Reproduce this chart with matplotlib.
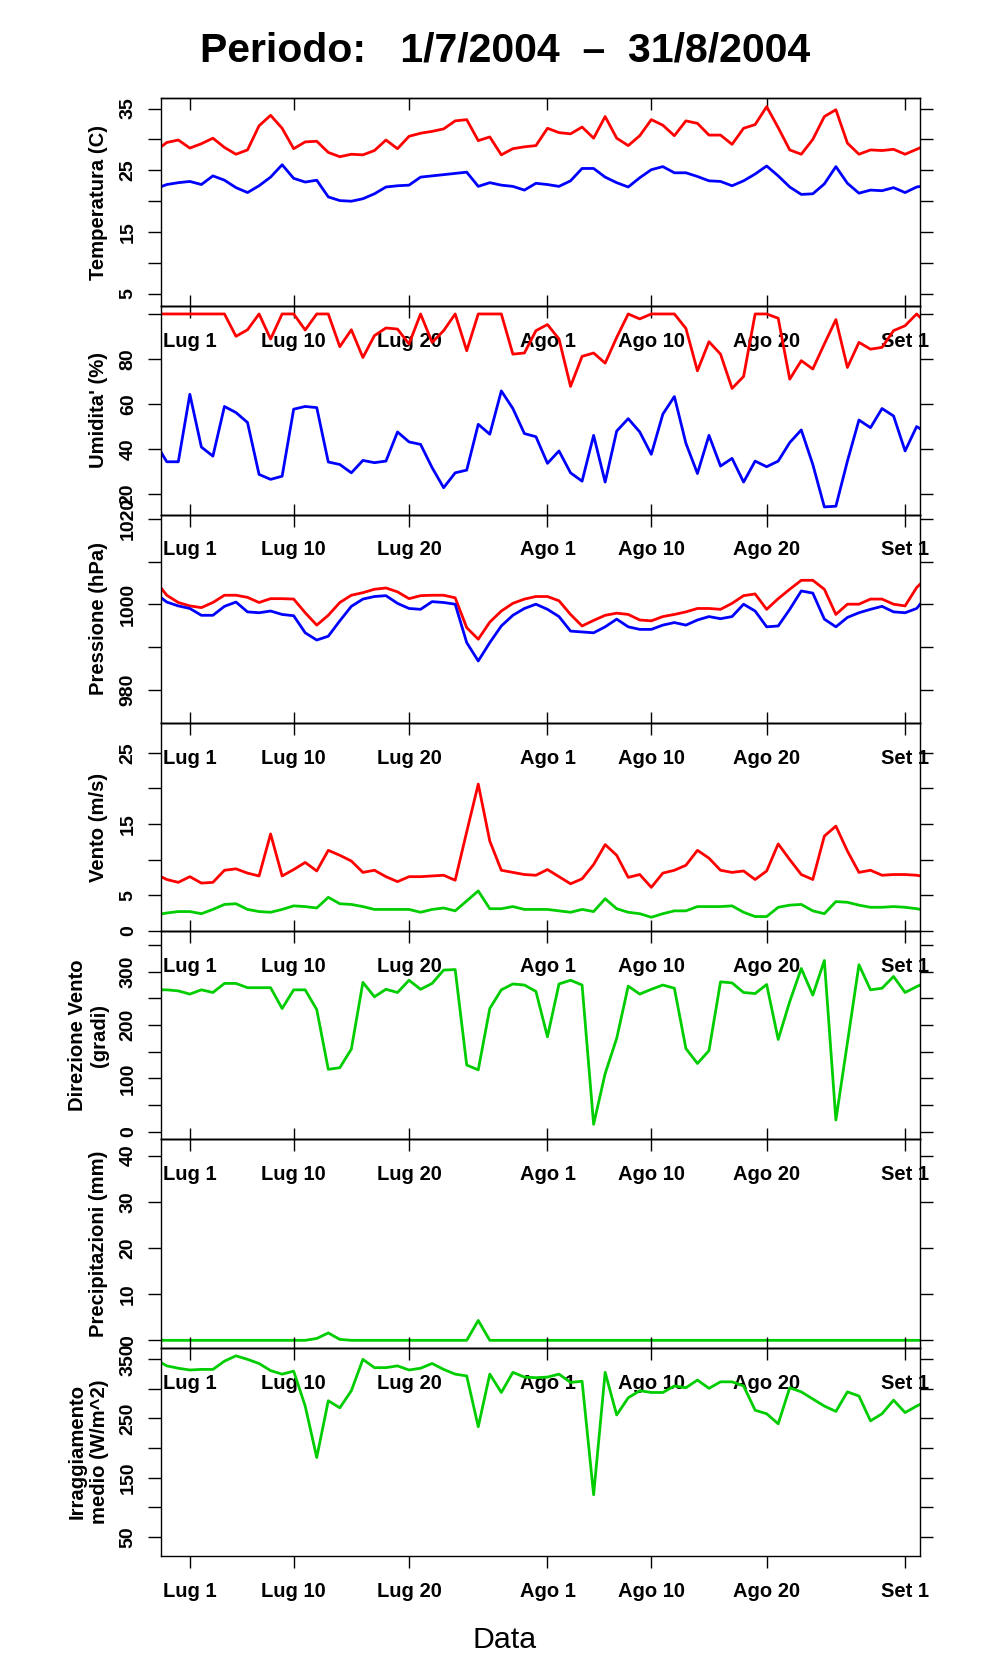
import matplotlib
matplotlib.use('Agg')
import matplotlib.pyplot as plt
import matplotlib.dates as mdates
import pandas as pd

plt.rcParams['font.family'] = ['Liberation Sans', 'DejaVu Sans']

# daily values, 28 Jun 2004 .. 3 Sep 2004 (axis shows 28.5 Jun .. 2.3 Sep)
giorni = pd.date_range('2004-06-28', '2004-09-03', freq='D')

temp_max = [28.1, 29.5, 29.9, 28.6, 29.3, 30.2, 28.7, 27.6, 28.3, 32.2,
            33.9, 31.8, 28.5, 29.6, 29.7, 27.9, 27.2, 27.6, 27.5, 28.2,
            29.9, 28.5, 30.5, 31.0, 31.3, 31.7, 33.0, 33.2, 29.8, 30.4,
            27.5, 28.5, 28.8, 29.0, 31.8, 31.1, 30.9, 32.0, 30.2, 33.7,
            30.2, 29.0, 30.6, 33.2, 32.3, 30.6, 33.0, 32.6, 30.7, 30.7,
            29.2, 31.8, 32.4, 35.3, 31.9, 28.3, 27.6, 30.0, 33.7, 34.8,
            29.4, 27.6, 28.3, 28.2, 28.4, 27.6, 28.4, 29.2]
temp_min = [22.0, 22.7, 23.0, 23.2, 22.7, 24.1, 23.4, 22.2, 21.4, 22.5,
            23.9, 25.9, 23.7, 23.1, 23.4, 20.7, 20.1, 20.0, 20.4, 21.2,
            22.3, 22.5, 22.6, 23.9, 24.1, 24.3, 24.5, 24.7, 22.4, 23.0,
            22.6, 22.4, 21.8, 22.9, 22.7, 22.4, 23.3, 25.3, 25.3, 23.9,
            23.0, 22.3, 23.8, 25.1, 25.6, 24.6, 24.6, 24.0, 23.3, 23.2,
            22.5, 23.3, 24.4, 25.7, 24.1, 22.3, 21.1, 21.2, 22.8, 25.6,
            22.9, 21.3, 21.8, 21.7, 22.2, 21.4, 22.3, 22.6]

umid_max = [100, 100, 100, 100, 100, 100, 100, 90.1, 93.0, 100,
            88.9, 100, 100, 92.9, 100, 100, 85.5, 93.0, 80.7, 90.4,
            93.8, 93.3, 86.7, 100, 87.4, 92.6, 100, 83.7, 100, 100,
            100, 82.2, 82.7, 92.6, 95.3, 88.9, 67.9, 81.2, 82.7, 78.2,
            89.6, 100, 97.8, 100, 100, 100, 93.6, 74.8, 87.7, 82.2,
            67.0, 72.3, 100, 100, 98.1, 71.1, 79.3, 75.6, 86.7, 97.5,
            76.3, 87.4, 84.4, 85.2, 92.6, 94.8, 100, 95.0]
umid_min = [43.0, 34.5, 34.5, 64.4, 41.0, 37.0, 59.0, 56.3, 51.9, 28.9,
            26.7, 28.1, 57.8, 59.0, 58.5, 34.4, 33.3, 29.6, 35.1, 34.1,
            34.8, 47.7, 43.3, 42.2, 31.9, 23.0, 29.6, 30.8, 51.1, 46.7,
            65.9, 58.1, 47.0, 45.6, 33.8, 39.3, 29.6, 25.9, 46.2, 25.5,
            48.1, 53.6, 47.7, 37.8, 55.6, 63.4, 42.7, 29.3, 46.2, 32.6,
            36.0, 25.5, 34.8, 32.3, 34.8, 43.0, 48.6, 33.3, 14.5, 14.8,
            34.8, 53.0, 49.6, 58.1, 54.8, 39.3, 50.1, 47.0]

press_max = [1005.5, 1002.1, 1000.4, 999.6, 999.2, 1000.4, 1002.1, 1002.1, 1001.6, 1000.4,
             1001.3, 1001.3, 1001.2, 998.0, 995.1, 997.4, 1000.4, 1002.1, 1002.7, 1003.5,
             1003.8, 1002.9, 1001.3, 1002.0, 1002.1, 1002.1, 1001.5, 994.5, 991.8, 995.8,
             998.4, 1000.2, 1001.2, 1001.8, 1001.8, 1000.8, 997.6, 994.9, 996.2, 997.4,
             997.9, 997.6, 996.3, 996.1, 997.1, 997.6, 998.2, 999.0, 999.0, 998.8,
             1000.2, 1002.0, 1002.4, 998.8, 1001.3, 1003.5, 1005.6, 1005.6, 1003.5, 997.6,
             1000.0, 1000.0, 1001.2, 1001.2, 1000.0, 999.6, 1003.9, 1006.5]
press_min = [1002.6, 1000.5, 999.6, 999.0, 997.4, 997.4, 999.5, 1000.5, 998.2, 998.0,
             998.4, 997.6, 997.3, 993.3, 991.6, 992.5, 996.1, 999.5, 1001.2, 1001.8,
             1002.0, 1000.2, 999.0, 998.8, 1000.6, 1000.4, 1000.0, 991.0, 986.7, 991.0,
             994.9, 997.4, 999.0, 1000.0, 998.8, 997.1, 993.7, 993.5, 993.3, 994.7,
             996.5, 994.7, 994.1, 994.1, 995.1, 995.7, 995.1, 996.3, 997.1, 996.6,
             997.1, 1000.0, 998.4, 994.7, 994.9, 998.8, 1003.1, 1002.6, 996.5, 994.7,
             996.9, 998.0, 998.8, 999.5, 998.2, 998.0, 999.0, 1002.3]

vento_max = [8.0, 7.2, 6.8, 7.6, 6.7, 6.8, 8.5, 8.7, 8.1, 7.7,
             13.6, 7.7, 8.6, 9.6, 8.4, 11.3, 10.6, 9.8, 8.2, 8.5,
             7.6, 6.9, 7.6, 7.6, 7.7, 7.8, 7.1, 13.9, 20.6, 12.6,
             8.5, 8.2, 7.9, 7.8, 8.6, 7.6, 6.6, 7.3, 9.3, 12.1,
             10.6, 7.5, 7.9, 6.1, 8.1, 8.5, 9.2, 11.3, 10.2, 8.5,
             8.2, 8.4, 7.2, 8.4, 12.2, 10.0, 7.9, 7.2, 13.3, 14.7,
             11.2, 8.2, 8.5, 7.8, 7.9, 7.9, 7.8, 7.5]
vento_medio = [2.2, 2.5, 2.7, 2.7, 2.4, 3.0, 3.7, 3.8, 3.0, 2.7,
               2.6, 3.0, 3.5, 3.4, 3.2, 4.7, 3.8, 3.7, 3.4, 3.0,
               3.0, 3.0, 3.0, 2.6, 3.0, 3.2, 2.8, 4.2, 5.6, 3.1,
               3.1, 3.4, 3.0, 3.0, 3.0, 2.8, 2.6, 3.0, 2.7, 4.5,
               3.1, 2.6, 2.4, 1.9, 2.4, 2.8, 2.8, 3.4, 3.4, 3.4,
               3.5, 2.6, 2.0, 2.0, 3.3, 3.6, 3.7, 2.8, 2.4, 4.1,
               4.0, 3.6, 3.3, 3.3, 3.4, 3.3, 3.1, 2.8]

direzione = [266, 266, 264, 258, 266, 261, 278, 278, 270, 270,
             270, 231, 266, 266, 229, 117, 120, 155, 280, 253,
             267, 261, 284, 267, 278, 303, 304, 125, 116, 231,
             266, 277, 275, 263, 178, 277, 284, 275, 14, 109,
             175, 273, 258, 267, 275, 269, 156, 128, 152, 281,
             279, 261, 259, 276, 173, 244, 306, 256, 321, 22,
             167, 313, 266, 269, 291, 261, 272, 282]

pioggia = [0, 0, 0, 0, 0, 0, 0, 0, 0, 0,
           0, 0, 0, 0, 0.4, 1.6, 0.2, 0, 0, 0,
           0, 0, 0, 0, 0, 0, 0, 0, 4.3, 0,
           0, 0, 0, 0, 0, 0, 0, 0, 0, 0,
           0, 0, 0, 0, 0, 0, 0, 0, 0, 0,
           0, 0, 0, 0, 0, 0, 0, 0, 0, 0,
           0, 0, 0, 0, 0, 0, 0, 0]

irraggiamento = [350, 339, 335, 332, 333, 333, 347, 356, 350, 343,
                 331, 325, 330, 271, 184, 280, 268, 297, 350, 336,
                 336, 339, 332, 335, 343, 333, 325, 322, 236, 325,
                 294, 328, 320, 319, 320, 325, 311, 313, 121, 328,
                 256, 285, 297, 294, 294, 305, 302, 315, 301, 312,
                 312, 305, 264, 258, 241, 302, 295, 283, 271, 262,
                 295, 288, 246, 258, 281, 260, 271, 280]

tick_date = pd.to_datetime(['2004-07-01', '2004-07-10', '2004-07-20', '2004-08-01',
                            '2004-08-10', '2004-08-20', '2004-09-01'])
tick_nomi = ['Lug 1', 'Lug 10', 'Lug 20', 'Ago 1', 'Ago 10', 'Ago 20', 'Set 1']
x_lim = (pd.Timestamp('2004-06-28 12:00'), pd.Timestamp('2004-09-02 07:00'))

ROSSO, BLU, VERDE = '#ff0000', '#0000ff', '#00cd00'

pannelli = [
    # serie, colori, ylim, yticks, etichette, titolo asse
    ([temp_max, temp_min], [ROSSO, BLU], (3.0, 36.7), [5, 10, 15, 20, 25, 30, 35],
     ['5', '', '15', '', '25', '', '35'], 'Temperatura (C)'),
    ([umid_max, umid_min], [ROSSO, BLU], (11.1, 103.4), [20, 40, 60, 80, 100],
     ['20', '40', '60', '80', ''], "Umidita' (%)"),
    ([press_max, press_min], [ROSSO, BLU], (972.2, 1021.0), [980, 990, 1000, 1010, 1020],
     ['980', '', '1000', '', '1020'], 'Pressione (hPa)'),
    ([vento_max, vento_medio], [ROSSO, VERDE], (-0.05, 29.2), [0, 5, 10, 15, 20, 25],
     ['0', '5', '', '15', '', '25'], 'Vento (m/s)'),
    ([direzione], [VERDE], (-14.4, 376), [0, 50, 100, 150, 200, 250, 300, 350],
     ['0', '', '100', '', '200', '', '300', ''], 'Direzione Vento\n(gradi)'),
    ([pioggia], [VERDE], (-1.6, 43.5), [0, 10, 20, 30, 40],
     ['0', '10', '20', '30', '40'], 'Precipitazioni (mm)'),
    ([irraggiamento], [VERDE], (17.4, 369.7), [50, 100, 150, 200, 250, 300, 350],
     ['50', '', '150', '', '250', '', '350'], 'Irraggiamento\nmedio (W/m^2)'),
]

W, H = 996, 1680
fig = plt.figure(figsize=(W / 100, H / 100), dpi=100)

top_px, bot_px = 98, 1556
left_px, right_px = 161, 920
h_px = (bot_px - top_px) / len(pannelli)
TICK = 8.6  # points (~12 px)

for i, (serie, colori, ylim, yt, ylab, titolo) in enumerate(pannelli):
    y0 = top_px + (i + 1) * h_px
    ax = fig.add_axes([left_px / W, 1 - y0 / H, (right_px - left_px) / W, h_px / H])
    ax.set_facecolor('none')
    for s, c in zip(serie, colori):
        ax.plot(giorni, s, color=c, lw=2.0, solid_joinstyle='round')
    ax.set_xlim(*x_lim)
    ax.set_ylim(*ylim)

    ax.set_xticks(tick_date)
    ax.set_xticklabels(tick_nomi, fontsize=14.5, fontweight='bold')
    ax.tick_params(axis='x', direction='out', length=TICK, width=1, pad=10,
                   bottom=True, top=False)

    # ticks on the top edge: inward for the first panel, outward for the others
    sec = ax.secondary_xaxis('top')
    sec.set_xticks(mdates.date2num(tick_date))
    sec.set_xticklabels([])
    sec.tick_params(axis='x', direction='in' if i == 0 else 'out',
                    length=TICK if i == 0 else 7.6, width=1)
    sec.spines['top'].set_linewidth(1.0)

    ax.set_yticks(yt)
    ax.set_yticklabels(ylab, rotation=90, va='center', fontsize=14, fontweight='bold')
    ax.tick_params(axis='y', direction='out', length=9.4, width=1, pad=8,
                   left=True, right=True, labelleft=True, labelright=False)
    for sp in ax.spines.values():
        sp.set_linewidth(1.0)

    xl = -0.0955 if '\n' in titolo else -0.0825
    ax.text(xl, 0.5, titolo, transform=ax.transAxes, rotation=90, ha='center',
            va='center', multialignment='center', fontsize=14.6, fontweight='bold')

fig.text(0.507, 1 - 50 / H, 'Periodo:   1/7/2004  \u2013  31/8/2004',
         ha='center', va='center', fontsize=29.5, fontweight='bold')
fig.text(0.507, 1 - 1640 / H, 'Data', ha='center', va='center', fontsize=21.8)

fig.savefig('out.png', dpi=100, facecolor='white')
